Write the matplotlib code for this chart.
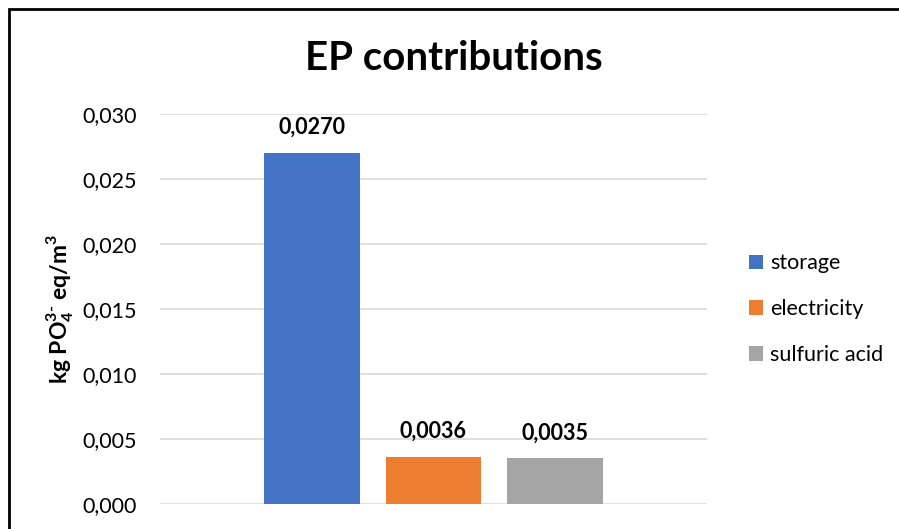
import matplotlib
matplotlib.use('Agg')
import matplotlib.pyplot as plt
from matplotlib.patches import Rectangle
from matplotlib.ticker import FuncFormatter

plt.rcParams['font.family'] = ['Lato', 'DejaVu Sans']
plt.rcParams['mathtext.fontset'] = 'custom'
plt.rcParams['mathtext.rm'] = 'Lato'
plt.rcParams['mathtext.bf'] = 'Lato:bold'

# EP contributions per source
sources = ['storage', 'electricity', 'sulfuric acid']
values = [0.0270, 0.0036, 0.0035]
colors = ['#4472C4', '#ED7D31', '#A5A5A5']
yticks = [0.000, 0.005, 0.010, 0.015, 0.020, 0.025, 0.030]

fig = plt.figure(figsize=(8.99, 5.29), dpi=100)
ax = fig.add_axes([160 / 899, 25.3 / 529, 547 / 899, 390 / 529])

x = range(len(sources))
bars = ax.bar(x, values, width=0.793, color=colors, label=sources, zorder=3)

for xi, v in zip(x, values):
    ax.annotate(f'{v:.4f}'.replace('.', ','), (xi, v), xytext=(0, 13.5),
                textcoords='offset points', ha='center', va='baseline',
                fontsize=15.5, fontweight='bold')

ax.set_xlim(-1.26, 3.26)
ax.set_ylim(0, 0.030)
ax.set_yticks(yticks)
ax.yaxis.set_major_formatter(FuncFormatter(lambda v, p: f'{v:.3f}'.replace('.', ',')))
ax.set_xticks([])
ax.tick_params(axis='y', length=0, pad=17, labelsize=15.5)
ax.grid(axis='y', color='#D9D9D9', linewidth=1.2, zorder=0)
for s in ax.spines.values():
    s.set_visible(False)

ax.set_ylabel('kg PO$_\\mathbf{4}^\\mathbf{3\u2010}$ eq/m$^\\mathbf{3}$',
              fontsize=16.5, fontweight='bold', labelpad=4)

fig.text(454 / 899, 1 - 58 / 529, 'EP contributions', ha='center', va='center',
         fontsize=29, fontweight='bold')

leg = fig.legend(handles=bars, labels=sources, loc='upper left',
                 bbox_to_anchor=(730 / 899, 1 - 234 / 529), frameon=False,
                 fontsize=15.5, handlelength=0.65, handleheight=0.65,
                 handletextpad=0.3, labelspacing=1.2)

# outer chart border
fig.patches.append(Rectangle((9 / 899, -0.2), 1.2, 1.2 - 9 / 529,
                             transform=fig.transFigure, fill=False,
                             edgecolor='black', linewidth=2))

fig.savefig('out.png', dpi=100)
